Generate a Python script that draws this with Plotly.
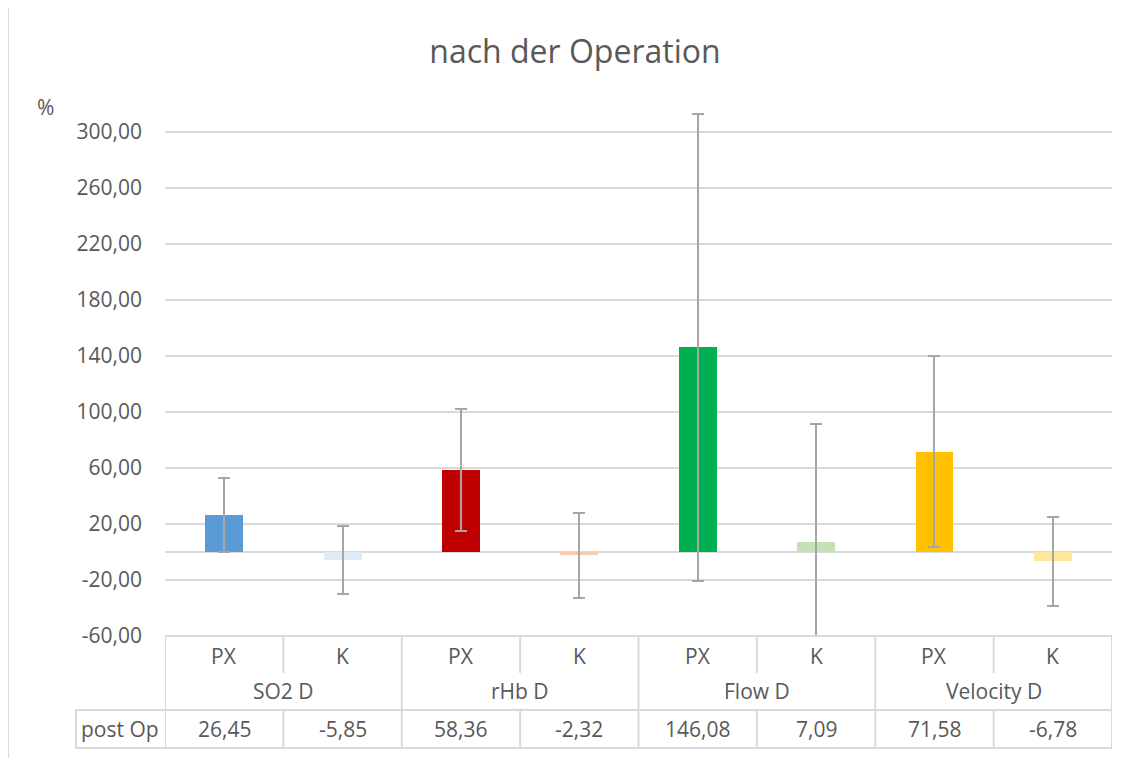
import plotly.graph_objects as go

title = "nach der Operation"
groups = ["SO2 D", "rHb D", "Flow D", "Velocity D"]
subgroups = ["PX", "K"]
row_label = "post Op"
values = [26.45, -5.85, 58.36, -2.32, 146.08, 7.09, 71.58, -6.78]
errors = [26.6, 24.1, 43.5, 30.4, 167.0, 84.1, 68.3, 32.0]
colors = ["#5B9BD5", "#DEEBF7", "#C00000", "#F8CBAD",
          "#00B050", "#C5E0B4", "#FFC000", "#FFE699"]
tick_vals = [-60, -20, 20, 60, 100, 140, 180, 220, 260, 300]
tick_text = [f"{v:.2f}".replace(".", ",") for v in tick_vals]

FONT = "Open Sans"
TXT = "#595959"
GRID = "#D9D9D9"
LINE = "#D9D9D9"

OFF = 8  # browser body margin
W, H = 1134 - OFF, 758 - OFF
# reference-pixel geometry of the plot area
L, R = 165, 1112
TOP_PX, BOT_PX = 104, 636

def py(ref_y):
    return (BOT_PX - ref_y) / (BOT_PX - TOP_PX)

def px_x(ref_x):
    return (ref_x - L) / (R - L)

n = len(values)
xs = list(range(n))

fig = go.Figure()
fig.add_trace(go.Bar(
    x=xs, y=values, width=0.32,
    marker=dict(color=colors, line=dict(width=0)),
    error_y=dict(type="data", array=errors, visible=True,
                 color="#A6A6A6", thickness=2, width=6),
    hoverinfo="y",
))

shapes = []
annotations = []
y_top = 0
y_sub = py(673)
y_mid = py(710)
y_bot = py(748)
lw = dict(color=LINE, width=2)

shapes.append(dict(type="line", xref="paper", yref="paper", x0=0, x1=1, y0=y_top, y1=y_top, line=lw))
shapes.append(dict(type="line", xref="paper", yref="paper", x0=px_x(76), x1=1, y0=y_mid, y1=y_mid, line=lw))
shapes.append(dict(type="line", xref="paper", yref="paper", x0=px_x(76), x1=1, y0=y_bot, y1=y_bot, line=lw))
shapes.append(dict(type="line", xref="paper", yref="paper", x0=px_x(76), x1=px_x(76), y0=y_mid, y1=y_bot, line=lw))
for i in range(n + 1):
    xb = i - 0.5
    if i % 2 == 0:
        shapes.append(dict(type="line", xref="x", yref="paper", x0=xb, x1=xb, y0=y_top, y1=y_bot, line=lw))
    else:
        shapes.append(dict(type="line", xref="x", yref="paper", x0=xb, x1=xb, y0=y_top, y1=y_sub, line=lw))
        shapes.append(dict(type="line", xref="x", yref="paper", x0=xb, x1=xb, y0=y_mid, y1=y_bot, line=lw))
shapes.append(dict(type="line", xref="paper", yref="paper", x0=px_x(8), x1=px_x(8),
                   y0=py(780), y1=py(-20), line=lw))

fnt = dict(family=FONT, size=21, color=TXT)
for i in range(n):
    annotations.append(dict(x=i, y=py(656), xref="x", yref="paper", text=subgroups[i % 2],
                            showarrow=False, font=fnt, xanchor="center", yanchor="middle"))
    annotations.append(dict(x=i, y=py(729), xref="x", yref="paper",
                            text=f"{values[i]:.2f}".replace(".", ","),
                            showarrow=False, font=fnt, xanchor="center", yanchor="middle"))
for g, name in enumerate(groups):
    annotations.append(dict(x=2 * g + 0.5, y=py(691), xref="x", yref="paper", text=name,
                            showarrow=False, font=fnt, xanchor="center", yanchor="middle"))
annotations.append(dict(x=px_x(120), y=py(729), xref="paper", yref="paper", text=row_label,
                        showarrow=False, font=fnt, xanchor="center", yanchor="middle"))
annotations.append(dict(x=px_x(45), y=py(107), xref="paper", yref="paper", text="%",
                        showarrow=False, font=fnt, xanchor="center", yanchor="middle"))

fig.update_layout(
    width=W, height=H,
    margin=dict(l=L - OFF, r=1134 - R, t=TOP_PX - OFF, b=758 - BOT_PX, pad=0),
    paper_bgcolor="white", plot_bgcolor="white",
    showlegend=False,
    title=dict(text=title, x=(575 - OFF) / W, y=1 - (52 - OFF) / H, xanchor="center", yanchor="middle",
               font=dict(family=FONT, size=32, color=TXT)),
    font=dict(family=FONT, color=TXT),
    xaxis=dict(range=[-0.5, n - 0.5], showticklabels=False, showgrid=False,
               zeroline=False, showline=False, ticks=""),
    yaxis=dict(range=[-60, 320], tickvals=tick_vals, ticktext=tick_text,
               showgrid=True, gridcolor=GRID, gridwidth=2,
               zeroline=True, zerolinecolor=GRID, zerolinewidth=2,
               showline=False, ticks="", ticklabelstandoff=22,
               tickfont=dict(family=FONT, size=21, color=TXT)),
    shapes=shapes, annotations=annotations,
    bargap=0,
)

fig.write_html("out.html")
